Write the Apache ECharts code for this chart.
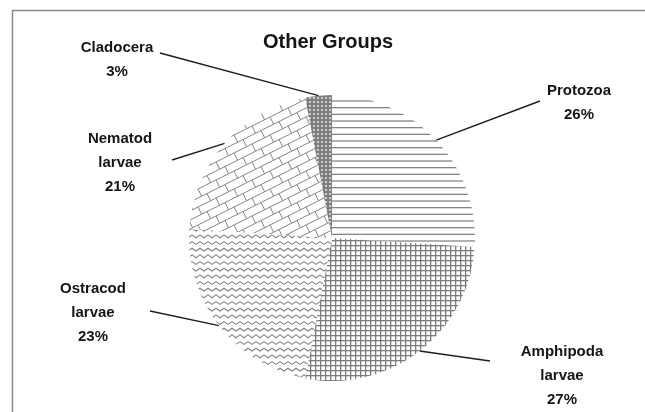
<!DOCTYPE html>
<html>
<head>
<meta charset="utf-8">
<script src="https://cdn.jsdelivr.net/npm/echarts@6/dist/echarts.min.js"></script>
<style>
  html, body { margin: 0; padding: 0; background: #fff; }
  #chart { width: 645px; height: 412px; }
</style>
</head>
<body>
<div id="chart"></div>
<script>
// Composition of the "other groups" zooplankton fraction
const categories = ['Protozoa', 'Amphipoda larvae', 'Ostracod larvae', 'Nematod larvae', 'Cladocera'];
const shares = [26, 27, 23, 21, 3];
const chartTitle = 'Other Groups';

// Label anchors (block centres) and leader-line end points, in pixels
const labelAnchors = [[579, 103], [562, 376], [93, 313], [120, 163], [117, 60]];
const leaderEnds = [[540, 101], [490, 361], [150, 311], [172, 160], [160, 53]];

// Build a repeating tile for a hatch fill
function tile(w, h, draw) {
  const c = document.createElement('canvas');
  c.width = w; c.height = h;
  const ctx = c.getContext('2d');
  ctx.fillStyle = '#fff';
  ctx.fillRect(0, 0, w, h);
  draw(ctx, w, h);
  return c;
}

const hatchGray = '#858585';

// horizontal lines
const horizTile = tile(8, 20, (ctx, w) => {
  ctx.strokeStyle = hatchGray; ctx.lineWidth = 1.3;
  [1, 7.67, 14.33].forEach(y => { ctx.beginPath(); ctx.moveTo(0, y); ctx.lineTo(w, y); ctx.stroke(); });
});

// small square grid
const gridTile = tile(5, 5, (ctx, w, h) => {
  ctx.fillStyle = '#7c7c7c';
  ctx.fillRect(0, 0, w, 1.3);
  ctx.fillRect(0, 0, 1.3, h);
});

// zig-zag waves
const waveTile = tile(8, 20, (ctx, w) => {
  ctx.strokeStyle = hatchGray; ctx.lineWidth = 1.1;
  [3, 9.67, 16.33].forEach(y0 => {
    ctx.beginPath();
    for (let x = -4; x <= w + 4; x += 4) {
      const y = y0 + ((Math.round(x / 4) % 2 === 0) ? -1.4 : 1.4);
      if (x === -4) ctx.moveTo(x, y); else ctx.lineTo(x, y);
    }
    ctx.stroke();
  });
});

// diagonal brick
const brickTile = tile(36, 18, (ctx) => {
  ctx.strokeStyle = hatchGray; ctx.lineWidth = 1.0;
  for (let k = -4; k <= 10; k++) {
    const c = 9 * k;
    ctx.beginPath(); ctx.moveTo(-9, 4.5 + c); ctx.lineTo(45, -22.5 + c); ctx.stroke();
    for (let j = -4; j <= 4; j++) {
      const x0 = 18 * j + 9 * k;
      const y0 = -0.5 * x0 + c;
      ctx.beginPath(); ctx.moveTo(x0, y0); ctx.lineTo(x0 + 3.6, y0 + 7.2); ctx.stroke();
    }
  }
});

// dark dotted
const dotTile = tile(4, 4, (ctx) => {
  ctx.fillStyle = '#7e7e7e';
  ctx.fillRect(0, 0, 4, 4);
  ctx.fillStyle = '#f4f4f4';
  ctx.beginPath(); ctx.arc(2, 2, 0.9, 0, Math.PI * 2); ctx.fill();
});

const fills = [horizTile, gridTile, waveTile, brickTile, dotTile];

const chart = echarts.init(document.getElementById('chart'), null, { renderer: 'canvas' });

const pieData = categories.map((name, i) => ({
  name: name,
  value: shares[i],
  itemStyle: { color: { image: fills[i], repeat: 'repeat' } }
}));

chart.setOption({
  animation: false,
  backgroundColor: '#fff',
  graphic: [{
    type: 'rect',
    silent: true,
    shape: { x: 12.5, y: 10.5, width: 700, height: 500 },
    style: { fill: 'none', stroke: '#8a8a8a', lineWidth: 1.5 }
  }, {
    type: 'text',
    silent: true,
    x: 328, y: 42,
    style: {
      text: chartTitle,
      fill: '#141414',
      font: 'bold 20px "Liberation Sans", Arial, sans-serif',
      align: 'center',
      verticalAlign: 'middle'
    }
  }],
  series: [{
    type: 'pie',
    center: [332, 238],
    radius: 143,
    startAngle: 90,
    clockwise: true,
    silent: true,
    emphasis: { disabled: true },
    itemStyle: { borderWidth: 0 },
    label: {
      show: true,
      position: 'outside',
      formatter: p => p.name.replace(' ', '\n') + '\n' + p.percent + '%',
      fontFamily: '"Liberation Sans", Arial, sans-serif',
      fontWeight: 'bold',
      fontSize: 15,
      lineHeight: 24,
      color: '#151515',
      align: 'center'
    },
    labelLine: {
      show: true,
      length: 20,
      length2: 20,
      lineStyle: { color: '#1e1e1e', width: 1.4 }
    },
    labelLayout: params => {
      const i = params.dataIndex;
      const start = params.labelLinePoints ? params.labelLinePoints[0] : leaderEnds[i];
      return {
        x: labelAnchors[i][0],
        y: labelAnchors[i][1],
        align: 'center',
        verticalAlign: 'middle',
        labelLinePoints: [start, leaderEnds[i], leaderEnds[i]]
      };
    },
    data: pieData
  }]
});
</script>
</body>
</html>
